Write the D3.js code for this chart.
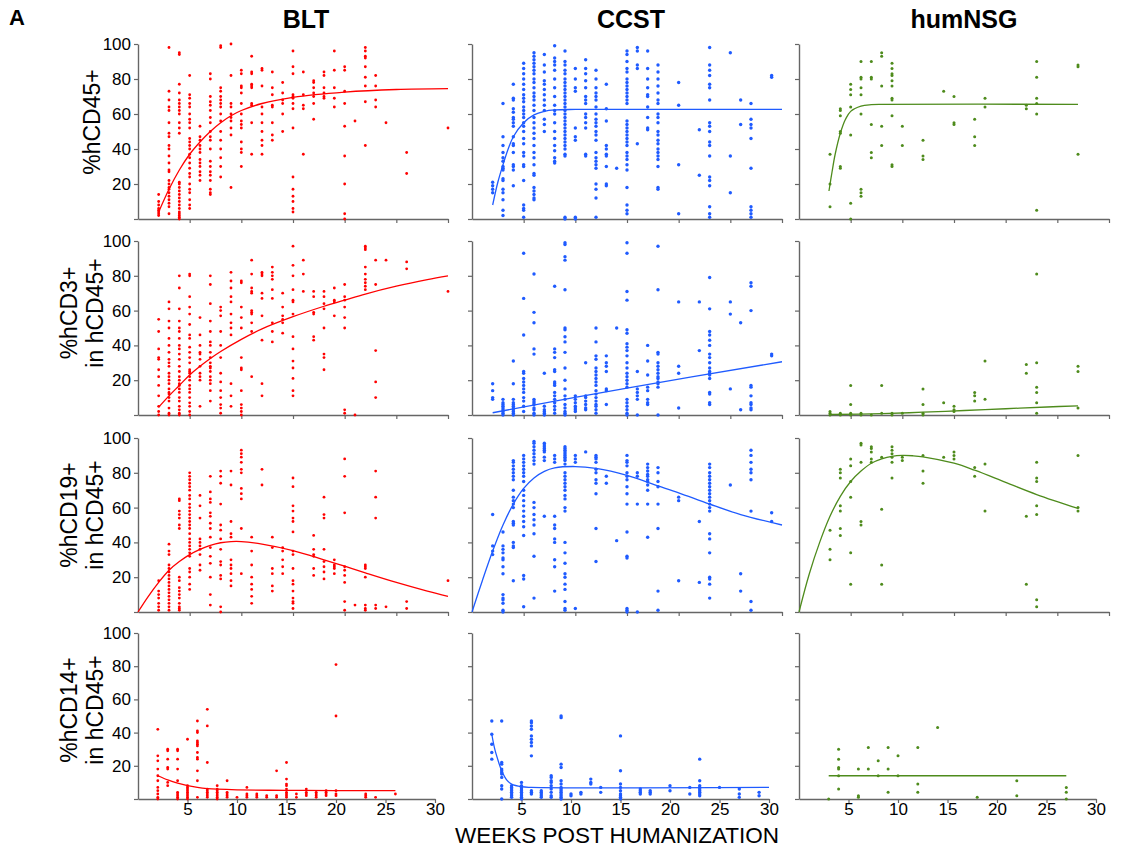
<!DOCTYPE html>
<html>
<head>
    <meta charset="utf-8">
    <title>Weeks post humanization</title>
    <script src="https://cdn.jsdelivr.net/npm/d3@7"></script>
    <style>
        body { margin: 0; background: #fff; }
    </style>
</head>
<body>
<script type="text/javascript">
    ////////////////////////////////
    /* DATA */
    ////////////////////////////////
    var groups = ["BLT", "CCST", "humNSG"];
    var groupColors = ["#ff0000", "#1f5bff", "#4e8b1c"];
    var markerLabels = [["%hCD45+"], ["%hCD3+", "in hCD45+"], ["%hCD19+", "in hCD45+"], ["%hCD14+", "in hCD45+"]];
    var xTicks = [5, 10, 15, 20, 25, 30];
    var yTicks = [0, 20, 40, 60, 80, 100];
    var xTitle = "WEEKS POST HUMANIZATION";

    // each entry: [week, [values at that week]]
    var bltCD45 = [
        [2, [14, 10, 8, 6, 5, 4, 3, 2]],
        [3, [98, 73, 68, 64, 62, 55, 49, 47, 42, 40, 36, 32, 28, 27, 22, 20, 18, 17, 15, 13, 11, 9, 7, 3]],
        [4, [95, 94, 77, 72, 68, 66, 64, 62, 60, 55, 52, 49, 21, 20, 18, 16, 14, 12, 10, 8, 6, 4, 3, 2, 1, 0]],
        [5, [82, 71, 69, 66, 64, 60, 57, 55, 52, 46, 44, 42, 40, 37, 35, 32, 29, 26, 24, 20, 17, 15, 11, 8, 6]],
        [6, [53, 47, 45, 42, 40, 38, 34, 32, 30, 27, 25, 22]],
        [7, [83, 80, 70, 67, 65, 62, 58, 55, 50, 47, 45, 40, 33, 30, 27, 25, 22, 17, 15, 14]],
        [8, [99, 98, 75, 73, 70, 68, 66, 64, 60, 56, 50, 45, 40, 35, 30, 24]],
        [9, [100, 82, 66, 64, 60, 58, 56, 52, 48, 18]],
        [10, [85, 83, 76, 75, 72, 66, 60, 56, 54, 52, 44, 40, 38, 30]],
        [11, [93, 84, 83, 77, 76, 75, 66, 65, 55, 37]],
        [12, [86, 85, 76, 64, 60, 55, 50, 45, 42, 37]],
        [13, [84, 75, 71, 65, 64, 55, 48, 45]],
        [14, [78, 72, 68, 66, 60, 50]],
        [15, [96, 87, 83, 71, 70, 69, 66, 63, 52, 24, 17, 13, 10, 6, 4]],
        [16, [84, 71, 65, 63, 37]],
        [17, [79, 78, 75, 72, 70, 66, 57]],
        [18, [84, 82, 75, 72, 70, 69]],
        [19, [96, 85, 75, 69, 64]],
        [20, [87, 85, 73, 66, 53, 36, 20, 3, 0]],
        [21, [56]],
        [22, [98, 96, 93, 92, 87, 81, 76, 67, 42]],
        [23, [82, 76, 68, 64]],
        [24, [55]],
        [26, [38, 26]],
        [30, [52]]
    ];
    var bltCD3 = [
        [2, [55, 48, 38, 33, 32, 26, 22, 17, 11, 5, 2, 0]],
        [3, [65, 61, 54, 50, 44, 40, 36, 32, 30, 28, 24, 22, 20, 18, 15, 13, 12, 10, 8, 4, 1, 0]],
        [4, [80, 73, 61, 54, 50, 48, 44, 40, 38, 35, 32, 28, 25, 22, 20, 18, 17, 15, 13, 10, 8, 5, 3, 1, 0]],
        [5, [81, 80, 68, 62, 58, 52, 46, 44, 39, 36, 33, 30, 26, 25, 24, 22, 20, 17, 15, 13, 10, 7, 5, 2, 0]],
        [6, [56, 46, 40, 36, 35, 32, 28, 24, 22, 20, 5]],
        [7, [80, 75, 64, 54, 48, 42, 40, 36, 33, 30, 28, 27, 25, 22, 20, 18, 14, 8]],
        [8, [62, 60, 57, 48, 40, 33, 24, 19, 14, 10, 6, 4, 1]],
        [9, [82, 77, 73, 68, 65, 58, 53, 50, 46, 18, 11, 5]],
        [10, [77, 76, 62, 56, 50, 33, 27, 26, 14, 6, 4, 2, 0]],
        [11, [89, 81, 73, 71, 70, 60, 59, 58, 53, 48, 22]],
        [12, [82, 81, 80, 70, 67, 57, 43, 18, 11]],
        [13, [85, 82, 80, 78, 72, 67, 53, 48, 42]],
        [14, [70, 62, 57, 55, 53, 47]],
        [15, [97, 86, 80, 72, 66, 65, 58, 45, 38, 31, 27, 21, 14, 11]],
        [16, [89, 81, 71]],
        [17, [71, 68, 59, 58, 45, 43]],
        [18, [71, 68, 64, 61, 50, 35, 33, 26]],
        [19, [73, 66, 65, 57]],
        [20, [75, 68, 66, 62, 56, 50, 3, 1]],
        [21, [0]],
        [22, [97, 96, 95, 85, 81, 78, 76, 74, 72]],
        [23, [89, 75, 37, 19, 10]],
        [24, [89]],
        [26, [88, 84]],
        [30, [71]]
    ];
    var bltCD19 = [
        [2, [18, 12, 10, 8, 5, 3, 1]],
        [3, [39, 35, 33, 27, 25, 23, 21, 19, 17, 15, 13, 11, 9, 7, 5, 3, 1]],
        [4, [65, 64, 58, 56, 54, 50, 48, 20, 18, 14, 12, 10, 8, 5, 3, 2, 1]],
        [5, [80, 78, 76, 74, 72, 70, 67, 65, 62, 60, 58, 56, 54, 52, 50, 48, 45, 42, 40, 38, 36, 34, 32, 25, 23, 20, 16, 13]],
        [6, [67, 61, 54, 42, 40, 38, 36, 33, 27, 24]],
        [7, [78, 69, 65, 63, 57, 55, 51, 48, 43, 37, 32, 28, 20, 10, 4]],
        [8, [81, 78, 74, 62, 50, 47, 42, 36, 29, 27, 21, 19, 3, 0]],
        [9, [81, 73, 52, 45, 43, 30, 27, 25, 22, 18, 15]],
        [10, [93, 91, 89, 86, 82, 80, 71, 68, 65, 48, 22]],
        [11, [43, 35, 27, 20, 16, 13, 9, 5]],
        [12, [82, 73]],
        [13, [43, 37, 25, 22, 15, 12]],
        [14, [37, 35, 30, 26, 22]],
        [15, [77, 72, 61, 58, 54, 52, 46, 35, 33, 25, 18, 16, 12, 8, 6, 5, 2]],
        [17, [44, 36, 33, 32, 25, 21]],
        [18, [66, 56, 54, 36, 29, 26, 23, 19]],
        [19, [30, 27, 26, 25, 22]],
        [20, [88, 78, 57, 26, 24, 21, 17, 6, 1]],
        [21, [4]],
        [22, [27, 26, 25, 20, 4, 2, 1]],
        [23, [81, 66, 54, 4, 2]],
        [24, [3]],
        [26, [6, 2]],
        [30, [18]]
    ];
    var bltCD14 = [
        [2, [42, 26, 23, 18, 14, 11, 7, 5, 3, 1, 0]],
        [3, [30, 29, 24, 19, 18, 10, 8]],
        [4, [30, 29, 24, 18, 11, 4, 3, 2, 1, 0]],
        [5, [36, 8, 7, 6, 5, 4, 3, 2, 1, 0]],
        [6, [47, 41, 40, 35, 34, 33, 32, 28, 25, 24, 17, 11, 1]],
        [7, [54, 44, 22, 6, 5, 4, 3, 2, 1]],
        [8, [8, 6, 5, 4, 3, 2, 1, 0]],
        [9, [11, 4, 3, 2, 1]],
        [10, [1]],
        [11, [7, 3, 2, 1]],
        [12, [3, 2, 1]],
        [13, [2, 1]],
        [14, [17, 2, 1]],
        [15, [22, 12, 9, 8, 6, 4, 3, 2, 1]],
        [16, [3, 1]],
        [17, [6, 4, 3, 2]],
        [18, [4, 3, 2, 1]],
        [19, [5, 4, 3, 2]],
        [20, [81, 50, 5, 3, 2]],
        [23, [3, 2, 1]],
        [24, [1]],
        [26, [3]]
    ];

    var ccstCD45 = [
        [2, [21, 19, 17, 15]],
        [3, [66, 47, 42, 38, 35, 33, 30, 29, 28, 23, 22, 17, 15, 11, 5, 2]],
        [4, [77, 69, 68, 63, 61, 58, 57, 55, 53, 47, 43, 42, 38, 31, 30, 28, 19]],
        [5, [89, 86, 83, 80, 77, 74, 71, 69, 67, 64, 62, 60, 58, 55, 53, 50, 46, 43, 38, 36, 31, 30, 22, 8, 6, 5, 1]],
        [6, [95, 93, 91, 89, 87, 85, 83, 80, 78, 75, 72, 70, 68, 65, 62, 58, 55, 52, 49, 46, 42, 38, 35, 31, 26, 25, 18, 16, 14, 12, 11]],
        [7, [94, 88, 84, 79, 77, 74, 71, 68, 65, 62, 57, 54, 50]],
        [8, [99, 92, 90, 88, 85, 80, 75, 70, 65, 62, 60, 55, 50, 46, 42, 39, 35, 33, 32]],
        [9, [96, 90, 88, 85, 83, 80, 78, 76, 74, 72, 70, 68, 66, 64, 62, 60, 58, 56, 54, 52, 50, 48, 46, 44, 42, 40, 37, 36, 1, 0]],
        [10, [86, 80, 75, 73, 52, 47, 45, 1, 0]],
        [11, [91, 86, 83, 79, 75, 70, 68, 66, 60, 58, 55, 52, 37, 36]],
        [12, [85, 80, 75, 72, 70, 68, 64, 60, 57, 55, 53, 50, 48, 45, 38, 35, 33, 31, 29, 20, 17, 12, 1]],
        [13, [77, 63, 56, 42, 40, 37, 36, 30, 20, 19]],
        [14, [29]],
        [15, [96, 94, 90, 86, 84, 80, 78, 76, 74, 72, 70, 68, 66, 56, 54, 52, 50, 48, 46, 44, 42, 38, 36, 34, 31, 28, 18, 8, 5, 3]],
        [16, [98, 96, 88, 86, 43]],
        [17, [96, 86, 80, 75, 71, 70, 64, 58, 52, 51]],
        [18, [88, 84, 80, 76, 72, 68, 66, 60, 58, 55, 50, 48, 45, 43, 40, 38, 36, 34, 30, 18, 17]],
        [20, [78, 65, 31, 3]],
        [22, [51, 25]],
        [23, [98, 88, 85, 82, 77, 75, 68, 55, 53, 50, 44, 42, 36, 24, 22, 19, 7, 3, 1]],
        [25, [95, 36, 15]],
        [26, [68, 54]],
        [27, [66, 57, 54, 52, 46, 29, 7, 5, 3, 1]],
        [29, [82, 81]]
    ];
    var ccstCD3 = [
        [2, [18, 14, 10, 9]],
        [3, [9, 7, 6, 5, 4, 3, 2, 1, 0]],
        [4, [31, 18, 9, 7, 6, 5, 4, 3, 2, 1, 0]],
        [5, [93, 67, 46, 25, 24, 21, 19, 17, 15, 13, 10, 8, 5, 2]],
        [6, [81, 59, 53, 38, 35, 9, 8, 7, 6, 4, 3, 1, 0]],
        [7, [24, 5, 3, 2, 1, 0]],
        [8, [74, 38, 36, 33, 26, 25, 19, 18, 17, 13, 11, 9, 7, 5, 3, 1]],
        [9, [99, 98, 91, 89, 72, 50, 49, 45, 42, 36, 27, 20, 15, 11, 9, 6, 4, 2, 1, 0]],
        [10, [11, 9, 7, 5, 4, 3, 2]],
        [11, [30, 11, 10, 8, 6, 4, 3]],
        [12, [50, 42, 34, 32, 27, 25, 23, 21, 19, 17, 14, 12, 10, 8, 6, 5, 3, 1]],
        [13, [34, 30, 28, 25, 15, 14, 6]],
        [14, [50]],
        [15, [99, 93, 71, 66, 49, 47, 41, 39, 37, 34, 30, 27, 24, 22, 20, 18, 16, 9, 7, 5, 3, 1, 0]],
        [16, [25, 15, 13, 11, 9, 0]],
        [17, [40, 31, 23, 16, 14, 9, 7, 6]],
        [18, [97, 72, 36, 35, 30, 28, 26, 24, 22, 21, 19, 18, 16, 0]],
        [20, [65, 28, 24, 4]],
        [22, [65, 37]],
        [23, [79, 61, 48, 46, 43, 40, 35, 33, 30, 27, 25, 24, 23, 21, 13, 12, 7, 6]],
        [25, [65, 58, 15]],
        [26, [53, 3]],
        [27, [76, 74, 60, 17, 16, 11, 7, 6, 4, 3]],
        [29, [35, 34]]
    ];
    var ccstCD19 = [
        [2, [56, 38, 35, 33]],
        [3, [46, 38, 36, 34, 31, 30, 26, 22, 10, 8, 7, 5, 1, 0]],
        [4, [87, 86, 84, 82, 80, 78, 76, 70, 66, 64, 62, 60, 52, 51, 50, 40, 38, 37, 18]],
        [5, [90, 88, 86, 84, 82, 80, 78, 75, 70, 67, 64, 61, 58, 55, 52, 49, 44, 21, 19, 3]],
        [6, [98, 97, 95, 93, 91, 89, 87, 85, 63, 60, 56, 53, 50, 45, 32, 8]],
        [7, [97, 96, 95, 94, 93, 92, 89, 87, 55]],
        [8, [90, 88, 86, 55, 50, 48, 42, 40, 30, 26, 12]],
        [9, [95, 94, 93, 92, 91, 90, 89, 88, 87, 85, 80, 78, 76, 74, 72, 70, 67, 65, 60, 58, 40, 34, 28, 22, 20, 16, 13, 6, 2, 1]],
        [10, [90, 88, 86, 2]],
        [11, [92]],
        [12, [90, 89, 88, 86, 82, 80, 76, 74, 68, 48, 29]],
        [13, [78, 74]],
        [14, [41]],
        [15, [90, 87, 86, 84, 80, 78, 76, 72, 68, 62, 46, 32, 31, 2, 1, 0]],
        [16, [80, 78, 62, 0]],
        [17, [85, 83, 81, 79, 78, 76, 75, 73, 70, 62, 43]],
        [18, [83, 80, 75, 72, 62, 48, 12, 1]],
        [20, [66, 64, 18]],
        [22, [52, 17]],
        [23, [85, 83, 80, 78, 76, 74, 72, 70, 68, 66, 64, 62, 60, 58, 45, 42, 34, 20, 19, 16, 8]],
        [25, [73]],
        [26, [22, 12]],
        [27, [93, 90, 86, 82, 80, 76, 58, 6, 1]],
        [29, [57, 52]]
    ];
    var ccstCD14 = [
        [2, [47, 39, 33, 28, 24]],
        [3, [47, 22, 21, 18, 17, 16, 15, 13, 8, 6, 0]],
        [4, [8, 7, 6, 5, 4, 3, 2, 1]],
        [5, [10, 8, 7, 6, 5, 4, 3, 2, 1, 0]],
        [6, [47, 46, 44, 42, 38, 36, 34, 32, 26, 5, 4, 3]],
        [7, [5, 4, 3, 2, 1]],
        [8, [14, 13, 11, 10, 8, 6, 4, 2, 1]],
        [9, [50, 49, 21, 19, 11, 9, 7, 6, 5, 4, 3, 2, 1, 0]],
        [10, [3, 2]],
        [11, [4, 3]],
        [12, [12, 10, 9]],
        [13, [7, 4]],
        [15, [38, 17, 9, 7, 5, 3, 2, 1, 0]],
        [17, [6, 5, 4, 3]],
        [18, [5, 4, 3]],
        [20, [8, 5]],
        [22, [7, 3]],
        [23, [24, 11, 8, 7, 6, 5, 4, 3, 2]],
        [25, [7]],
        [27, [6, 3, 1]],
        [29, [4, 2]]
    ];

    var nsgCD45 = [
        [3, [37, 20, 7]],
        [4, [63, 62, 59, 50, 49, 30, 29]],
        [5, [77, 74, 71, 64, 48, 9, 0]],
        [6, [90, 81, 80, 75, 71, 60, 17, 15, 13]],
        [7, [90, 81, 80, 54, 38, 35]],
        [8, [95, 93, 76, 53, 42]],
        [9, [89, 86, 83, 82, 79, 76, 69, 68, 59, 31, 30]],
        [10, [53, 42]],
        [12, [45, 36, 34]],
        [14, [73]],
        [15, [70, 55, 54]],
        [17, [57, 47, 42]],
        [18, [69, 64]],
        [22, [65, 63]],
        [23, [90, 81, 69, 66, 60, 5]],
        [27, [88, 87, 37]]
    ];
    var nsgCD3 = [
        [3, [2, 1, 0]], [4, [1, 0]], [5, [17, 6, 1, 0]], [6, [1, 0]], [7, [0]], [8, [17, 1]],
        [9, [1, 0]], [10, [1]], [12, [15, 6, 1, 0]], [14, [7]], [15, [5, 3, 2]], [17, [13, 11, 8]],
        [18, [31, 9]], [22, [29, 24]], [23, [81, 30, 16, 13, 7, 1]], [27, [28, 25, 4]]
    ];
    var nsgCD19 = [
        [3, [47, 36, 30]],
        [4, [82, 80, 77, 61, 58, 48, 44]],
        [5, [88, 84, 75, 66, 34, 16]],
        [6, [97, 96, 86, 52, 50]],
        [7, [95, 94, 92, 88, 86]],
        [8, [89, 59, 27, 16]],
        [9, [95, 93, 91, 89, 86, 77]],
        [10, [89, 87]],
        [12, [90, 81, 74]],
        [14, [89]],
        [15, [92, 90, 88]],
        [17, [83, 78]],
        [18, [85, 58]],
        [22, [55, 16]],
        [23, [86, 77, 75, 61, 56, 7, 3]],
        [27, [90, 60, 58]]
    ];
    var nsgCD14 = [
        [3, [0]], [4, [30, 24, 19, 18, 14, 6]], [6, [18, 2, 1]], [7, [31, 18]], [8, [23, 14]],
        [9, [31, 18, 4]], [10, [26, 14]], [12, [31, 9, 4]], [14, [43]], [18, [1]], [22, [11, 2]], [27, [7, 4, 0]]
    ];

    // fitted curves as [week, value]
    var bltFit45 = [[2, 4], [3, 17], [4, 28], [5, 37], [6, 44], [7, 50], [8, 55], [9, 59], [10, 62], [12, 66], [15, 69.5], [20, 72.5], [25, 74], [30, 74.5]];
    var bltFit3 = [[2, 4.5], [3, 11], [4, 17], [5, 23], [6, 28], [7, 32.5], [8, 36.5], [10, 43.5], [12, 49.5], [15, 56.5], [18, 62.5], [20, 66], [22, 69.5], [25, 74], [28, 77.8], [30, 80]];
    var bltFit19 = [[0, 0], [1, 9], [2, 17], [3, 24], [4, 29], [5, 33], [6, 36], [7, 38.3], [8, 39.8], [9, 40.5], [10, 40.5], [12, 39], [15, 35.3], [18, 30], [20, 26.3], [22, 22.5], [25, 17], [28, 12], [30, 9]];
    var bltFit14 = [[2, 14], [3, 11.5], [4, 9.5], [5, 8], [6, 7], [7, 6.3], [8, 5.9], [10, 5.5], [15, 5.2], [20, 5.1], [26, 5.1]];
    var ccstFit45 = [[2, 8], [2.5, 21], [3, 31], [3.5, 40], [4, 47], [5, 55], [6, 59.5], [7, 61.5], [8, 62.3], [10, 62.6], [30, 62.6]];
    var ccstFit3 = [[2, 1.3], [15, 15.5], [30, 30.6]];
    var ccstFit19 = [[0, 0], [1, 18], [2, 35], [3, 50], [4, 62], [5, 71], [6, 77], [7, 80.8], [8, 82.8], [10, 83.6], [12, 82.5], [15, 78.5], [18, 72.5], [20, 68.5], [23, 62], [26, 56], [30, 50]];
    var ccstFit14 = [[2, 39], [2.3, 30], [2.7, 22], [3, 17], [3.5, 11.5], [4, 9], [5, 7.4], [6, 7], [30, 7]];
    var nsgFit45 = [[2.9, 16], [3.2, 27], [3.5, 37], [4, 49], [4.5, 57], [5, 61.5], [6, 64.5], [7, 65.3], [8, 65.5], [27, 65.5]];
    var nsgFit3 = [[3, 0.3], [8, 0.8], [12, 1.6], [16, 2.6], [20, 3.6], [24, 4.6], [27, 5.3]];
    var nsgFit19 = [[0, 0], [1, 22], [2, 40], [3, 55], [4, 66.5], [5, 75], [6, 81], [7, 85.5], [8, 88], [9, 89.5], [10, 90], [11, 89.8], [12, 89.2], [15, 85.5], [17, 81.5], [20, 74.5], [23, 67.5], [27, 59.5]];
    var nsgFit14 = [[3, 14], [27, 14]];

    // rows = markers, columns = groups
    var points = [
        [bltCD45, ccstCD45, nsgCD45],
        [bltCD3, ccstCD3, nsgCD3],
        [bltCD19, ccstCD19, nsgCD19],
        [bltCD14, ccstCD14, nsgCD14]
    ];
    var fits = [
        [bltFit45, ccstFit45, nsgFit45],
        [bltFit3, ccstFit3, nsgFit3],
        [bltFit19, ccstFit19, nsgFit19],
        [bltFit14, ccstFit14, nsgFit14]
    ];

    ////////////////////////////////
    /* LAYOUT */
    ////////////////////////////////
    var w = 1127;
    var h = 857;
    var colLeft = [138, 472, 799];
    var rowTop = [44, 241, 438, 633];
    var rowBottom = [219, 415, 612, 799];
    var panelW = [310, 310, 310, 297]; // bottom row is a bit narrower
    var dotR = [1.4, 1.7, 1.5];
    var titleX = [306, 631, 964];
    var labelY = [122, 313, 515, 710];
    var font = "'Liberation Sans', Arial, Helvetica, sans-serif";
    var axisColor = "#666";

    var svg = d3.select("body")
        .append("svg")
        .attr("width", w)
        .attr("height", h)
        .style("font-family", font);

    svg.append("rect").attr("width", w).attr("height", h).attr("fill", "white");

    // panel letter + group titles
    svg.append("text")
        .text("A")
        .attr("x", 9)
        .attr("y", 25)
        .attr("font-size", "22px")
        .attr("font-weight", "bold");

    svg.selectAll("text.title")
        .data(groups)
        .enter()
        .append("text")
        .attr("class", "title")
        .text(function(d) { return d; })
        .attr("x", function(d, i) { return titleX[i]; })
        .attr("y", 28)
        .attr("text-anchor", "middle")
        .attr("font-size", "25px")
        .attr("font-weight", "bold");

    // y labels, one or two rotated lines
    markerLabels.forEach(function(lines, r) {
        var g = svg.append("g")
            .attr("transform", "translate(0," + labelY[r] + ") rotate(-90)");
        lines.forEach(function(line, k) {
            var bx = lines.length === 1 ? 100 : (k === 0 ? 77 : 103);
            g.append("text")
                .text(line)
                .attr("x", 0)
                .attr("y", bx)
                .attr("text-anchor", "middle")
                .attr("font-size", "23px");
        });
    });

    var line = d3.line().curve(d3.curveCatmullRom.alpha(0.5));

    for (var r = 0; r < 4; r++) {
        for (var c = 0; c < 3; c++) {
            var x = d3.scaleLinear().domain([0, 30]).range([colLeft[c], colLeft[c] + panelW[r]]);
            var y = d3.scaleLinear().domain([0, 100]).range([rowBottom[r], rowTop[r]]);
            var panel = svg.append("g");

            // axes
            var yAxis = d3.axisLeft(y)
                .tickValues(yTicks)
                .tickSize(4)
                .tickSizeOuter(0)
                .tickPadding(3)
                .tickFormat(function(d) { return (c === 0 && d > 0) ? d : ""; });
            var xAxis = d3.axisBottom(x)
                .tickValues(xTicks)
                .tickSize(4)
                .tickSizeOuter(0)
                .tickPadding(0)
                .tickFormat(function(d) { return r === 3 ? d : ""; });

            var ya = panel.append("g")
                .attr("transform", "translate(" + colLeft[c] + ",0)")
                .call(yAxis);
            var xa = panel.append("g")
                .attr("transform", "translate(0," + rowBottom[r] + ")")
                .call(xAxis);
            [ya, xa].forEach(function(a) {
                a.select(".domain").attr("stroke", axisColor).attr("stroke-width", 1.4);
                a.selectAll(".tick line").attr("stroke", axisColor).attr("stroke-width", 1.2);
                a.selectAll("text")
                    .attr("fill", "black")
                    .attr("font-size", "17px")
                    .attr("font-family", font);
            });

            // scatter points
            var pts = [];
            points[r][c].forEach(function(col) {
                col[1].forEach(function(v) { pts.push([col[0], v]); });
            });
            panel.selectAll("circle")
                .data(pts)
                .enter()
                .append("circle")
                .attr("cx", function(d) { return x(d[0]); })
                .attr("cy", function(d) { return y(d[1]); })
                .attr("r", dotR[c])
                .attr("fill", groupColors[c]);

            // fitted curve
            line.x(function(d) { return x(d[0]); })
                .y(function(d) { return y(d[1]); });
            panel.append("path")
                .attr("d", line(fits[r][c]))
                .attr("fill", "none")
                .attr("stroke", groupColors[c])
                .attr("stroke-width", 1.3);
        }
    }

    // shared x title
    svg.append("text")
        .text(xTitle)
        .attr("x", 617)
        .attr("y", 843)
        .attr("text-anchor", "middle")
        .attr("font-size", "22.5px");
</script>
</body>
</html>
